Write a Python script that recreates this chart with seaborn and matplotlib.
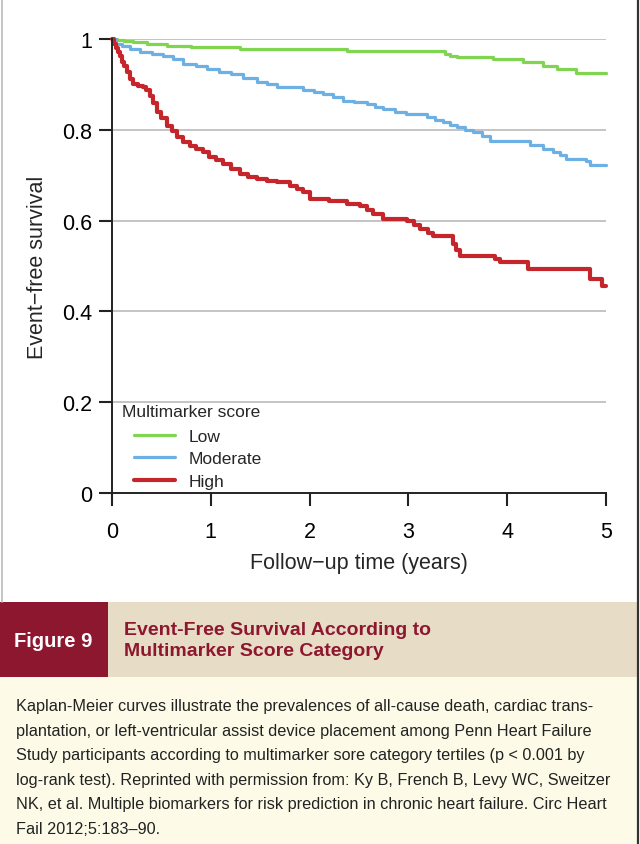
import numpy as np
import matplotlib
matplotlib.use("Agg")
import matplotlib.pyplot as plt
import pandas as pd
import seaborn as sns
from matplotlib.patches import Rectangle
from matplotlib.lines import Line2D

sns.set_theme(style="white")
plt.rcParams['font.family'] = ['Liberation Sans', 'DejaVu Sans']

# Kaplan-Meier steps (time in years, event-free survival)
low_t = [0, 0.05, 0.12, 0.21, 0.35, 0.56, 0.8, 1.3, 1.8, 2.38, 3.37, 3.42, 3.49,
         3.86, 4.16, 4.36, 4.5, 4.7, 5.0]
low_s = [1.0, 0.997, 0.995, 0.993, 0.989, 0.985, 0.982, 0.979, 0.977, 0.974, 0.968,
         0.963, 0.960, 0.955, 0.949, 0.941, 0.934, 0.925, 0.925]

mod_t = [0, 0.04, 0.1, 0.18, 0.28, 0.4, 0.52, 0.62, 0.72, 0.85, 0.96, 1.08, 1.2,
         1.33, 1.47, 1.57, 1.67, 1.93, 2.04, 2.14, 2.24, 2.34, 2.45, 2.58, 2.66,
         2.74, 2.86, 2.98, 3.19, 3.27, 3.35, 3.42, 3.49, 3.57, 3.65, 3.74, 3.83,
         4.23, 4.36, 4.46, 4.53, 4.6, 4.8, 4.84, 5.0]
mod_s = [1.0, 0.99, 0.985, 0.977, 0.971, 0.967, 0.963, 0.955, 0.945, 0.94, 0.934,
         0.928, 0.923, 0.915, 0.905, 0.9, 0.894, 0.888, 0.884, 0.879, 0.872, 0.864,
         0.861, 0.857, 0.851, 0.846, 0.84, 0.835, 0.828, 0.822, 0.817, 0.811, 0.806,
         0.8, 0.795, 0.786, 0.776, 0.767, 0.758, 0.751, 0.744, 0.736, 0.732, 0.722,
         0.722]

high_t = [0, 0.02, 0.04, 0.06, 0.08, 0.1, 0.12, 0.15, 0.18, 0.21, 0.26, 0.31, 0.34,
          0.38, 0.42, 0.46, 0.5, 0.56, 0.61, 0.66, 0.72, 0.79, 0.85, 0.92, 0.98,
          1.05, 1.12, 1.2, 1.3, 1.38, 1.47, 1.57, 1.67, 1.8, 1.87, 1.93, 2.0, 2.2,
          2.38, 2.51, 2.58, 2.64, 2.74, 2.99, 3.06, 3.12, 3.2, 3.25, 3.45, 3.48,
          3.52, 3.88, 3.93, 4.21, 4.84, 4.96, 5.0]
high_s = [1.0, 0.99, 0.98, 0.972, 0.962, 0.95, 0.94, 0.927, 0.912, 0.901, 0.897,
          0.894, 0.887, 0.875, 0.858, 0.839, 0.826, 0.809, 0.797, 0.784, 0.774,
          0.765, 0.758, 0.751, 0.741, 0.733, 0.725, 0.713, 0.703, 0.697, 0.692,
          0.688, 0.685, 0.677, 0.67, 0.663, 0.648, 0.643, 0.637, 0.633, 0.624,
          0.615, 0.604, 0.6, 0.59, 0.581, 0.572, 0.567, 0.548, 0.535, 0.523, 0.515,
          0.509, 0.493, 0.471, 0.457, 0.457]

groups = ["Low", "Moderate", "High"]
colors = {"Low": "#7fd54f", "Moderate": "#6db0e3", "High": "#c4262b"}
widths = {"Low": 2.3, "Moderate": 2.3, "High": 3.0}

df = pd.concat([
    pd.DataFrame({"time": low_t, "surv": low_s, "group": "Low"}),
    pd.DataFrame({"time": mod_t, "surv": mod_s, "group": "Moderate"}),
    pd.DataFrame({"time": high_t, "surv": high_s, "group": "High"}),
])

caption = ("Kaplan-Meier curves illustrate the prevalences of all-cause death, cardiac trans-\n"
           "plantation, or left-ventricular assist device placement among Penn Heart Failure\n"
           "Study participants according to multimarker sore category tertiles (p < 0.001 by\n"
           "log-rank test). Reprinted with permission from: Ky B, French B, Levy WC, Sweitzer\n"
           "NK, et al. Multiple biomarkers for risk prediction in chronic heart failure. Circ Heart\n"
           "Fail 2012;5:183\u201390.")

W, H = 640, 845
fig = plt.figure(figsize=(W / 100, H / 100), dpi=100)
fig.patch.set_facecolor("white")

ax = fig.add_axes([112 / W, 1 - 494 / H, 494 / W, 454 / H])
ax.set_facecolor("white")

for y in [0.2, 0.4, 0.6, 0.8, 1.0]:
    ax.axhline(y, color="#c4c4c4", lw=1.4, zorder=0)

for g in groups:
    sub = df[df["group"] == g]
    sns.lineplot(data=sub, x="time", y="surv", ax=ax, color=colors[g],
                 lw=widths[g], drawstyle="steps-post", estimator=None,
                 legend=False, clip_on=False)

ax.set_xlim(0, 5)
ax.set_ylim(0, 1)
ax.set_xticks(range(6))
ax.set_yticks([0, 0.2, 0.4, 0.6, 0.8, 1])
ax.set_yticklabels(["0", "0.2", "0.4", "0.6", "0.8", "1"])
for s in ["top", "right"]:
    ax.spines[s].set_visible(False)
for s in ["left", "bottom"]:
    ax.spines[s].set_color("#222222")
    ax.spines[s].set_linewidth(1.4)
ax.tick_params(axis="both", which="major", direction="out", length=9.5,
               width=1.5, color="#222222", labelsize=15.5, labelcolor="black",
               left=True, bottom=True)
ax.tick_params(axis="y", pad=5)
ax.tick_params(axis="x", pad=11)
ax.set_xlabel("Follow\u2212up time (years)", fontsize=15.5, labelpad=7)
ax.set_ylabel("Event\u2212free survival", fontsize=15.5, labelpad=10)

ax.text(0.02, 0.18, "Multimarker score", transform=ax.transAxes, fontsize=12.5,
        va="center", ha="left")
handles = [Line2D([], [], color=colors[g], lw=widths[g]) for g in groups]
ax.legend(handles, groups, loc="upper left", bbox_to_anchor=(0.033, 0.153),
          frameon=False, fontsize=12.5, handlelength=2.4, handletextpad=0.75,
          labelspacing=0.42, borderaxespad=0, borderpad=0.3)

# frame lines of the figure panel
fig.add_artist(Line2D([1.5 / W, 1.5 / W], [1 - 603 / H, 1], color="#bbbbbb", lw=1.2))
fig.add_artist(Line2D([637.5 / W, 637.5 / W], [0, 1], color="#333333", lw=1.6))

# title banner
fig.add_artist(Rectangle((0, 1 - 678 / H), 108 / W, 75 / H, transform=fig.transFigure,
                         facecolor="#8e1730", edgecolor="none"))
fig.add_artist(Rectangle((108 / W, 1 - 678 / H), 529 / W, 75 / H, transform=fig.transFigure,
                         facecolor="#e7dcc5", edgecolor="none"))
fig.add_artist(Rectangle((0, 0), 637 / W, 1 - 678 / H, transform=fig.transFigure,
                         facecolor="#fdfbe8", edgecolor="none"))

fig.text(53 / W, 1 - 642 / H, "Figure 9", color="white", fontsize=14.5, fontweight="bold",
         ha="center", va="center")
fig.text(124 / W, 1 - 641 / H, "Event-Free Survival According to\nMultimarker Score Category",
         color="#8e1730", fontsize=14, fontweight="bold", ha="left", va="center",
         linespacing=1.3)
fig.text(16 / W, 1 - 699 / H, caption, color="#222222", fontsize=11.7, ha="left", va="top",
         linespacing=1.8)

fig.savefig("out.png", dpi=100, facecolor=fig.get_facecolor())
